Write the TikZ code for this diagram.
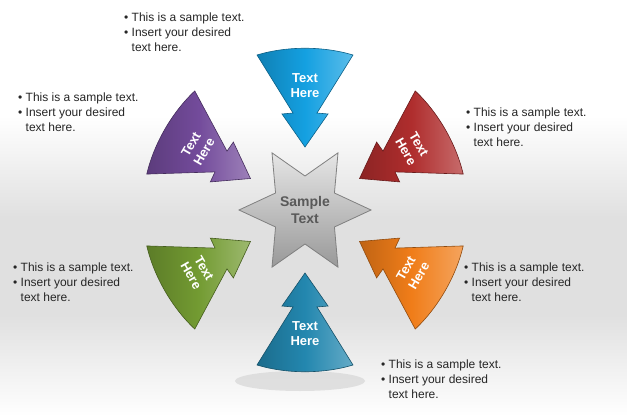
\documentclass[tikz,border=0pt]{standalone}
\usepackage{fontspec}
\setmainfont{Liberation Sans}
\usetikzlibrary{calc}
\begin{document}
\begin{tikzpicture}[x=1pt,y=1pt,
  bul/.style={anchor=north west,align=left,inner sep=0pt,font=\fontsize{12}{15}\selectfont,text=black!85},
  lab/.style={text=white,font=\bfseries\fontsize{13}{15}\selectfont,align=center},
  arr/.style={draw=#1!60!black,line width=0.6pt,left color=#1!80!black,right color=#1!70!white,middle color=#1}]
\useasboundingbox (0,0) rectangle (627,416);
\fill[white] (0,0) rectangle (627,416);
\shade[top color=white,bottom color=black!12] (0,300) rectangle (627,200);
\fill[black!12] (0,200) rectangle (627,100);
\shade[top color=black!12,bottom color=white] (0,100) rectangle (627,0);
\fill[black!18,opacity=0.6] (300,35) ellipse (65 and 10);
\definecolor{cblue}{RGB}{20,160,225}
\definecolor{cpurp}{RGB}{115,75,155}
\definecolor{cred}{RGB}{175,45,45}
\definecolor{corng}{RGB}{240,125,25}
\definecolor{cgrn}{RGB}{115,155,50}
\definecolor{cteal}{RGB}{35,135,175}
\coordinate (C) at (305,206);
\foreach \t/\c/\r in {90/cblue/0,150/cpurp/60,30/cred/-60,210/cgrn/-60,330/corng/60,270/cteal/0}{
  \begin{scope}[shift={(C)},rotate=\t-90]
   \path[arr=\c] (-48,155) .. controls (-18,164) and (18,164) .. (48,155)
     -- (12,97) -- (23,96) -- (0,63) -- (-23,96) -- (-12,97) -- cycle;
  \end{scope}
  \node[lab,rotate=\r] at ($(C)+(\t:124)$) {Text\\Here};
}
\draw[black!50,line width=0.8pt,top color=black!10,bottom color=black!40]
  ($(C)+(0:66)$) \foreach \a in {30,60,...,330}{ -- ($(C)+(\a:{mod(\a,60)==0?66:34})$)} -- cycle;
\node[text=black!65,font=\bfseries\fontsize{14}{17}\selectfont,align=center] (st) at (C) {Sample\\Text};
\node[bul] (t1) at (124,403) {• This is a sample text.\\• Insert your desired\\\phantom{• }text here.};
\node[bul] (t2) at (18,323) {• This is a sample text.\\• Insert your desired\\\phantom{• }text here.};
\node[bul] (t3) at (466,308) {• This is a sample text.\\• Insert your desired\\\phantom{• }text here.};
\node[bul] (t4) at (13,153) {• This is a sample text.\\• Insert your desired\\\phantom{• }text here.};
\node[bul] (t5) at (464,153) {• This is a sample text.\\• Insert your desired\\\phantom{• }text here.};
\node[bul] (t6) at (381,56) {• This is a sample text.\\• Insert your desired\\\phantom{• }text here.};
\end{tikzpicture}
\end{document}
